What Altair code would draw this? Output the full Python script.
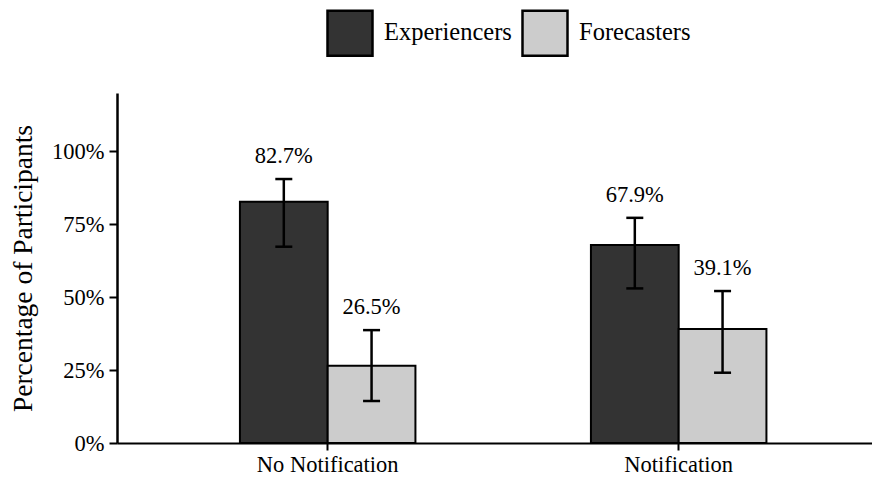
import altair as alt
import pandas as pd

categories = ["No Notification", "Notification"]
groups = ["Experiencers", "Forecasters"]
values = [82.7, 26.5, 67.9, 39.1]
err_lo = [67.3, 14.4, 53.0, 24.1]
err_hi = [90.5, 38.7, 77.2, 52.1]
bar_colors = ["#333333", "#cccccc"]

rows = []
i = 0
for c in categories:
    for g in groups:
        rows.append({"category": c, "group": g, "value": values[i],
                     "lo": err_lo[i], "hi": err_hi[i],
                     "label": f"{values[i]:.1f}%"})
        i += 1
df = pd.DataFrame(rows)

FONT = "Liberation Serif"
ytitle = "Percentage of Participants"

xenc = alt.X("category:N", sort=categories, title=None,
             scale=alt.Scale(paddingInner=0.5, paddingOuter=0.3255, align=0.538),
             axis=alt.Axis(labelFontSize=22.5, labelColor="black", labelFont=FONT,
                           tickSize=7, tickWidth=2, tickColor="black",
                           domainWidth=2.2, domainColor="black", labelPadding=3,
                           labelAngle=0))
xoff = alt.XOffset("group:N", sort=groups)
yscale = alt.Scale(domain=[0, 120], nice=False, zero=True)

base = alt.Chart(df).encode(x=xenc, xOffset=xoff)

bars = base.mark_bar(stroke="black", strokeWidth=2).encode(
    y=alt.Y("value:Q", scale=yscale, title=ytitle,
            axis=alt.Axis(values=[0, 25, 50, 75, 100], labelExpr="datum.value + '%'",
                          labelFontSize=22.5, labelColor="black", labelFont=FONT,
                          tickSize=8, tickWidth=2, tickColor="black",
                          domainWidth=2.5, domainColor="black", labelPadding=5,
                          grid=False, titleFontSize=27.5, titleFont=FONT,
                          titleFontWeight="normal", titleColor="black",
                          titleAngle=270, titleX=-86, titleY=175,
                          titleAlign="center", titleBaseline="alphabetic")),
    color=alt.Color("group:N", sort=groups,
                    scale=alt.Scale(domain=groups, range=bar_colors),
                    legend=alt.Legend(title=None, orient="none", direction="horizontal",
                                      legendX=209, legendY=-84,
                                      symbolType="square", symbolSize=2025,
                                      symbolStrokeColor="black", symbolStrokeWidth=2.5,
                                      symbolOpacity=1,
                                      labelFontSize=24.5, labelFont=FONT, labelColor="black",
                                      labelOffset=10, columnPadding=5, padding=0)),
)

rules = base.mark_rule(strokeWidth=2.5, color="black").encode(
    y=alt.Y("lo:Q", scale=yscale, title=ytitle), y2="hi:Q")
cap_hi = base.mark_tick(size=17, thickness=2.5, color="black", opacity=1).encode(
    y=alt.Y("hi:Q", scale=yscale, title=ytitle))
cap_lo = base.mark_tick(size=17, thickness=2.5, color="black", opacity=1).encode(
    y=alt.Y("lo:Q", scale=yscale, title=ytitle))
labels = base.mark_text(dy=-16, baseline="alphabetic", fontSize=22.5, font=FONT,
                        color="black").encode(
    y=alt.Y("hi:Q", scale=yscale, title=ytitle), text="label:N")

chart = alt.layer(bars, rules, cap_hi, cap_lo, labels).properties(
    width=755, height=350,
    autosize=alt.AutoSizeParams(type="none"),
    padding={"left": 109, "top": 85, "right": 0, "bottom": 36},
).configure(
    font=FONT,
    view=alt.ViewConfig(stroke=None),
)

chart.save("out.html", embed_options={"renderer": "svg", "actions": False})
